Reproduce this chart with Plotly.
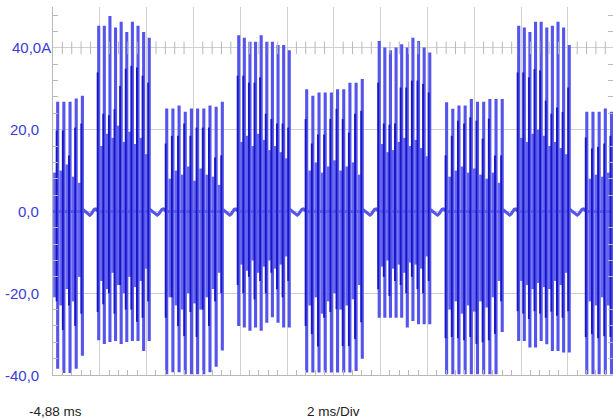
import numpy as np
import plotly.graph_objects as go

# ---- data ----
# time of the first spike of each burst (ms from the left edge of the screen)
burst_start_ms = [-1.12, 1.953, 4.86, 7.936, 10.84, 13.94, 16.82, 19.90, 22.81]
# spacing between spikes inside each burst (ms)
spike_step_ms = [0.264, 0.240, 0.264, 0.240, 0.264, 0.240, 0.264, 0.240, 0.264]

# positive peaks (A)
peak_pos = [
    [25.2, 25.6, 25.9, 25.0, 26.0, 26.8, 26.8, 26.8, 27.6, 28.3],
    [45.4, 45.4, 47.8, 45.0, 46.4, 43.9, 46.4, 45.4, 43.9, 42.5],
    [25.2, 25.2, 25.9, 24.4, 25.2, 25.2, 25.2, 25.9, 25.6, 26.8],
    [43.1, 42.5, 41.5, 41.5, 43.1, 41.5, 41.5, 40.7, 40.7, 39.4],
    [29.9, 28.3, 29.1, 29.1, 29.1, 29.9, 29.9, 31.5, 31.5, 32.4],
    [41.7, 40.1, 39.4, 40.1, 40.9, 40.1, 42.5, 41.7, 40.1, 38.9],
    [26.7, 25.1, 25.9, 25.9, 27.5, 26.8, 26.8, 27.5, 27.5, 27.5],
    [45.4, 45.0, 43.9, 46.4, 46.4, 45.0, 45.4, 46.4, 45.0, 40.7],
    [24.4, 24.4, 24.4, 25.2, 24.4],
]
# dense (darker) inner part, positive side (A)
inner_pos = [
    [18.0, 19.0, 17.0, 20.0, 12.0, 19.8, 19.8, 13.7, 20.5, 21.5],
    [34.0, 23.9, 23.5, 25.0, 30.7, 34.9, 35.6, 35.2, 33.2, 31.5],
    [16.6, 18.5, 18.5, 21.5, 18.5, 20.5, 20.5, 20.5, 13.2, 13.7],
    [33.2, 33.2, 31.5, 31.5, 32.8, 23.9, 22.6, 21.5, 21.5, 20.5],
    [22.6, 16.6, 18.8, 18.8, 22.6, 25.1, 22.6, 19.3, 23.9, 24.6],
    [31.5, 21.5, 21.2, 21.5, 30.3, 30.3, 32.0, 32.0, 31.2, 29.1],
    [13.7, 18.5, 22.2, 21.5, 23.0, 22.2, 17.8, 22.7, 13.7, 13.7],
    [34.0, 34.0, 32.8, 34.8, 34.5, 27.1, 23.9, 25.4, 24.3, 30.3],
    [18.1, 15.4, 15.8, 16.6, 18.5],
]
# negative peaks (A)
peak_neg = [
    [-39.5, -39.5, -39.5, -39.5, -39.3, -38.5, -39.5, -39.5, -38.5, -35.3],
    [-31.5, -32.4, -31.9, -31.7, -32.4, -31.9, -31.7, -31.7, -34.1, -31.7],
    [-39.8, -39.3, -39.3, -39.8, -39.8, -39.8, -39.8, -39.3, -38.0, -34.0],
    [-28.0, -28.4, -29.2, -28.4, -29.2, -27.2, -25.9, -27.2, -28.4, -28.4],
    [-39.4, -39.4, -39.4, -39.4, -39.4, -39.4, -39.4, -39.4, -39.0, -36.0],
    [-26.0, -26.0, -26.0, -26.0, -26.0, -28.4, -26.8, -27.6, -27.6, -27.6],
    [-39.8, -39.8, -39.8, -39.8, -39.8, -39.8, -39.8, -39.8, -39.8, -29.5],
    [-31.7, -31.7, -33.3, -33.3, -31.7, -32.5, -34.1, -34.1, -34.5, -34.5],
    [-39.8, -39.8, -39.8, -39.8, -39.8],
]
# dense (darker) inner part, negative side (A)
inner_neg = [
    [-28.0, -27.0, -29.0, -26.0, -30.0, -22.0, -29.0, -23.0, -28.0, -25.0],
    [-24.6, -22.7, -20.0, -25.0, -18.0, -24.0, -24.0, -27.0, -26.0, -22.0],
    [-26.0, -21.0, -28.0, -30.5, -24.6, -30.7, -24.0, -28.0, -22.0, -20.0],
    [-18.0, -20.0, -16.0, -21.5, -17.0, -20.0, -15.0, -19.0, -21.0, -17.0],
    [-28.0, -30.0, -33.0, -26.0, -24.6, -23.9, -32.9, -32.9, -31.2, -27.1],
    [-19.0, -16.0, -20.7, -17.0, -18.0, -20.0, -16.0, -19.0, -20.0, -17.0],
    [-31.0, -30.7, -31.0, -31.5, -30.7, -32.4, -32.0, -31.5, -30.0, -22.0],
    [-24.4, -25.0, -26.3, -24.4, -25.0, -26.0, -24.5, -25.5, -26.0, -24.4],
    [-30.7, -30.0, -31.0, -30.5, -30.7],
]
# lower-amplitude swings between the main spikes (A): positive / negative
mid_pos = [
    [9.0, 11.0, 8.0, 10.5, 9.5, 10.0, 11.5, 8.5, 7.0],
    [16.0, 19.0, 18.0, 21.0, 17.0, 19.5, 16.5, 18.0, 14.0],
    [8.0, 10.0, 9.0, 11.0, 7.5, 10.5, 9.0, 8.5, 6.5],
    [17.0, 18.5, 16.0, 19.0, 17.5, 15.0, 16.0, 14.5, 13.0],
    [10.0, 12.0, 9.5, 11.0, 12.5, 10.0, 11.0, 12.0, 9.0],
    [16.5, 14.5, 15.0, 17.0, 18.0, 16.0, 17.5, 15.5, 13.5],
    [8.5, 10.0, 11.0, 9.5, 10.5, 9.0, 8.0, 9.5, 7.0],
    [18.0, 17.0, 19.0, 20.0, 18.5, 16.0, 17.0, 15.5, 14.0],
    [8.0, 9.0, 8.5, 9.5],
]
mid_neg = [
    [-22.0, -24.0, -20.0, -25.0, -21.0, -23.0, -19.0, -22.0, -16.0],
    [-17.0, -19.0, -15.0, -18.0, -20.0, -16.0, -18.5, -17.0, -14.0],
    [-21.0, -23.0, -24.0, -20.0, -22.5, -24.0, -21.0, -19.0, -15.0],
    [-13.0, -14.5, -12.0, -15.0, -13.5, -12.0, -14.0, -13.0, -11.0],
    [-23.0, -21.0, -25.0, -22.0, -20.0, -24.0, -23.0, -21.5, -18.0],
    [-13.5, -12.0, -14.0, -13.0, -15.0, -12.5, -13.0, -14.0, -11.0],
    [-24.0, -22.0, -25.0, -23.0, -24.5, -22.0, -23.5, -21.0, -17.0],
    [-17.0, -18.0, -19.0, -17.5, -18.5, -19.0, -17.0, -18.0, -15.0],
    [-22.0, -23.0, -21.0, -23.0],
]
# small ripple of the trace between bursts (A)
gap_wiggle = [0.3, 0.0, -0.5, -0.8, -0.9, -0.6, -0.1, 0.5, 0.6, 0.2]

y_tick_vals = [40, 20, 0, -20, -40]
y_tick_text = ["40,0", "20,0", "0,0", "-20,0", "-40,0"]
x_left_label = "-4,88 ms"
timebase_label = "2 ms/Div"
trigger_ms = 4.87

X_END = 23.93
LIGHT = "rgb(85,85,236)"
MID = "rgb(100,100,240)"
DARK = "rgb(22,22,200)"
GRID = "#d0d0d0"
AXC = "#b8b8b8"

# ---- build traces ----
lx, ly = [], []
dx, dy = [], []
mx, my = [], []
for b, t0 in enumerate(burst_start_ms):
    step = spike_step_ms[b]
    n = len(peak_pos[b])
    for i in range(n):
        t = t0 + i * step
        lx += [t, t, t, t]
        ly += [0, peak_pos[b][i], peak_neg[b][i], 0]
        td = t - 0.045
        dx += [td, td, None]
        dy += [inner_neg[b][i], inner_pos[b][i], None]
    for i, (mp, mn) in enumerate(zip(mid_pos[b], mid_neg[b])):
        tm = t0 + (i + 0.5) * step
        mx += [tm, tm, None]
        my += [mn, mp, None]
    if b + 1 < len(burst_start_ms):
        t_end = t0 + (n - 1) * step
        t_next = burst_start_ms[b + 1]
        k = len(gap_wiggle)
        for j, w in enumerate(gap_wiggle):
            lx.append(t_end + (t_next - t_end) * (j + 1) / (k + 1))
            ly.append(w)

fig = go.Figure()
fig.add_trace(go.Scatter(x=mx, y=my, mode="lines",
                         line=dict(color=MID, width=2.8),
                         hoverinfo="skip"))
fig.add_trace(go.Scatter(x=lx, y=ly, mode="lines",
                         line=dict(color=LIGHT, width=3.1),
                         hoverinfo="skip"))
fig.add_trace(go.Scatter(x=dx, y=dy, mode="lines",
                         line=dict(color=DARK, width=1.9),
                         hoverinfo="skip"))

# minor cross ticks on the 40 A line
tx = [v for v in np.arange(0.4, X_END, 0.4) if abs(v / 2 - round(v / 2)) > 1e-6]
fig.add_trace(go.Scatter(x=tx, y=[40] * len(tx), mode="markers",
                         marker=dict(symbol="line-ns", size=9,
                                     line=dict(color=AXC, width=1)),
                         hoverinfo="skip"))
# trigger marker
fig.add_trace(go.Scatter(x=[trigger_ms], y=[-40.75], mode="markers",
                         marker=dict(symbol="triangle-up", size=8, color="black"),
                         cliponaxis=False, hoverinfo="skip"))

FONT = "Liberation Sans, Arial"
annots = []
for v, txt in zip(y_tick_vals, y_tick_text):
    if v == 40:
        annots.append(dict(x=0, xref="paper", y=v, yref="y", text=txt + "A",
                           xanchor="right", yanchor="middle", showarrow=False,
                           font=dict(family=FONT, size=15, color="rgb(60,60,215)")))
    else:
        annots.append(dict(x=0, xref="paper", y=v, yref="y", text=txt,
                           xanchor="right", yanchor="middle", showarrow=False,
                           xshift=-12,
                           font=dict(family=FONT, size=15, color="rgb(60,60,215)")))
annots.append(dict(x=0, xref="paper", y=-40, yref="y", text=x_left_label,
                   xanchor="left", yanchor="middle", showarrow=False,
                   xshift=-26, yshift=-36,
                   font=dict(family=FONT, size=13.5, color="#222")))
annots.append(dict(x=0, xref="paper", y=-40, yref="y", text=timebase_label,
                   xanchor="left", yanchor="middle", showarrow=False,
                   xshift=252, yshift=-36,
                   font=dict(family=FONT, size=13.5, color="#222")))

fig.update_layout(
    width=613, height=420,
    margin=dict(l=53, r=0, t=7, b=45),
    paper_bgcolor="white", plot_bgcolor="white",
    showlegend=False, hovermode=False,
    annotations=annots,
    xaxis=dict(range=[0, X_END], tick0=0, dtick=2, showgrid=True,
               gridcolor=GRID, gridwidth=1, zeroline=False,
               showticklabels=False, ticks="", showline=True, linecolor=AXC,
               minor=dict(ticks="inside", dtick=0.4, tick0=0, ticklen=5,
                          tickcolor=AXC, showgrid=False)),
    yaxis=dict(range=[-40, 50], tick0=0, dtick=20, showgrid=True,
               gridcolor=GRID, gridwidth=1, zeroline=False,
               showticklabels=False, ticks="", showline=True, linecolor=AXC,
               mirror="ticks",
               minor=dict(ticks="inside", dtick=4, tick0=0, ticklen=5,
                          tickcolor=AXC, showgrid=False)),
)

fig.write_html("out.html",
               config={"displayModeBar": False, "staticPlot": True},
               post_script="document.body.style.margin='0px';"
                           "document.body.style.padding='0px';")
